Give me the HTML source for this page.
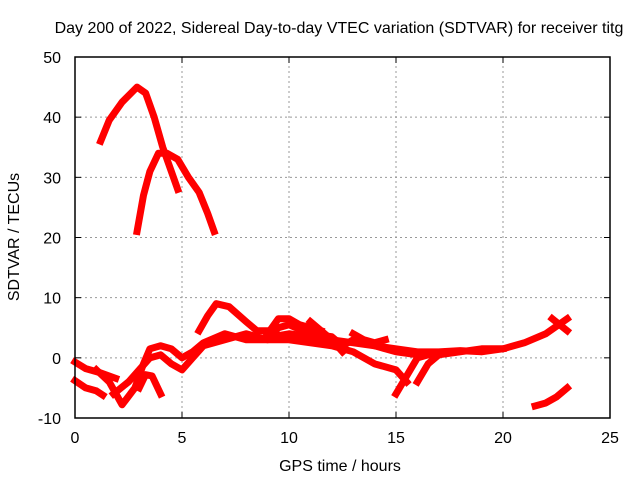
<!DOCTYPE html>
<html><head><meta charset="utf-8"><style>
body{margin:0;background:#fff}
svg{display:block;font-family:"Liberation Sans",sans-serif}
</style></head><body>
<svg id="c" width="640" height="480">
<rect width="640" height="480" fill="#fff"/>
<text x="339" y="33" font-size="16" text-anchor="middle">Day 200 of 2022, Sidereal Day-to-day VTEC variation (SDTVAR) for receiver titg</text>
<text x="340" y="471" font-size="16" text-anchor="middle">GPS time / hours</text>
<text transform="translate(19,237) rotate(-90)" font-size="16" text-anchor="middle">SDTVAR / TECUs</text>
<g id="grid"></g><g id="ticks"></g><g id="series"></g>
<rect x="75" y="57" width="535" height="361" fill="none" stroke="#000" stroke-width="1.5"/>
</svg>
<script>
const xTicks=[0,5,10,15,20,25];
const yTicks=[-10,0,10,20,30,40,50];
const tracks=[
[[1.2,36],[1.6,39.5],[2.2,42.5],[2.9,45],[3.3,44],[3.7,40],[4.1,35],[4.5,31],[4.8,28]],
[[2.9,21],[3.2,27],[3.5,31],[3.9,34],[4.3,34],[4.8,33],[5.3,30],[5.8,27.5],[6.2,24],[6.5,21]],
[[0,-0.7],[0.5,-1.8],[1.2,-2.5],[1.9,-3.4]],
[[0,-3.8],[0.5,-5],[1,-5.5],[1.3,-6.2]],
[[1.0,-2],[1.6,-4],[2.2,-7.8],[2.8,-5],[3.2,-1],[3.5,1.5],[4,2],[4.5,1.5],[5,0],[5.5,1],[6,2.5],[7,4],[8,3],[9,3],[9.5,5],[10,5.5],[11,4],[12,3.5],[12.5,2],[13,3],[14,2],[15,1],[16,0.5],[17,0.5],[18,1],[19,1.5],[20,1.5],[21,2.5],[22,4],[23,6.5]],
[[1.8,-6],[2.5,-4],[3,-2],[3.5,0],[4,0.5],[4.5,-1],[5,-2],[5.5,0],[6,2],[7,3],[8,4],[9,3],[10,3],[11,2.5],[12,2],[13,1],[14,-1],[15,-2],[15.5,-4]],
[[3,-5],[3.3,-2.8],[3.6,-3],[4,-6]],
[[5.8,4.5],[6.2,7],[6.6,9],[7.2,8.5],[8,6],[8.5,4.5],[9,4.5]],
[[9,4],[9.5,6.5],[10,6.5],[10.5,5.5],[11,5],[11.5,4.5]],
[[9.2,3.5],[10,4],[11,3.5],[12,3],[13,2.5],[14,2],[15,1.5],[16,1],[17,1],[18,1.2],[19,1],[20,1.5]],
[[11,6],[12,3],[12.5,1]],
[[13,4],[13.5,3],[14,2.5],[14.5,3]],
[[15,-6],[15.5,-3],[16,0],[16.5,0.5]],
[[16,-4],[16.5,-1],[17,0.5]],
[[21.5,-8],[22,-7.5],[22.5,-6.5],[23,-5]],
[[22.3,6.5],[23,4.5]]
];
const X0=75,X1=610,Y0=418,Y1=57;
const sx=v=>X0+(v-0)/(25-0)*(X1-X0);
const sy=v=>Y0-(v+10)/60*(Y0-Y1);
const NS="http://www.w3.org/2000/svg";
const mk=(t,a,p)=>{const e=document.createElementNS(NS,t);for(const k in a)e.setAttribute(k,a[k]);p.appendChild(e);return e;};
const g=document.getElementById('grid'),tk=document.getElementById('ticks'),se=document.getElementById('series');
xTicks.forEach(v=>{const x=sx(v);
 if(v>0&&v<25){const l=mk('line',{x1:x,x2:x,y1:Y0,y2:Y1,stroke:'#999','stroke-dasharray':'2,3'},g);
 
 }
 const t=mk('text',{x:x,y:Y0+25,'font-size':16,'text-anchor':'middle'},tk);t.textContent=v;
 
 
 mk('line',{x1:x,x2:x,y1:Y0,y2:Y0-6,stroke:'#000'},tk);mk('line',{x1:x,x2:x,y1:Y1,y2:Y1+6,stroke:'#000'},tk);});
yTicks.forEach(v=>{const y=sy(v);
 if(v>-10&&v<50){const l=mk('line',{x1:X0,x2:X1,y1:y,y2:y,stroke:'#999','stroke-dasharray':'2,3'},g);
 
 }
 const t=mk('text',{x:X0-14,y:y+6,'font-size':16,'text-anchor':'end'},tk);t.textContent=v;
 
 
 mk('line',{x1:X0,x2:X0+6,y1:y,y2:y,stroke:'#000'},tk);mk('line',{x1:X1,x2:X1-6,y1:y,y2:y,stroke:'#000'},tk);});
tracks.forEach(tr=>{
 const p=mk('polyline',{points:tr.map(d=>sx(d[0])+','+sy(d[1])).join(' '),fill:'none',stroke:'#f00','stroke-width':7,'stroke-linejoin':'round','stroke-linecap':'square'},se);
 
 
});
</script>
</body></html>
